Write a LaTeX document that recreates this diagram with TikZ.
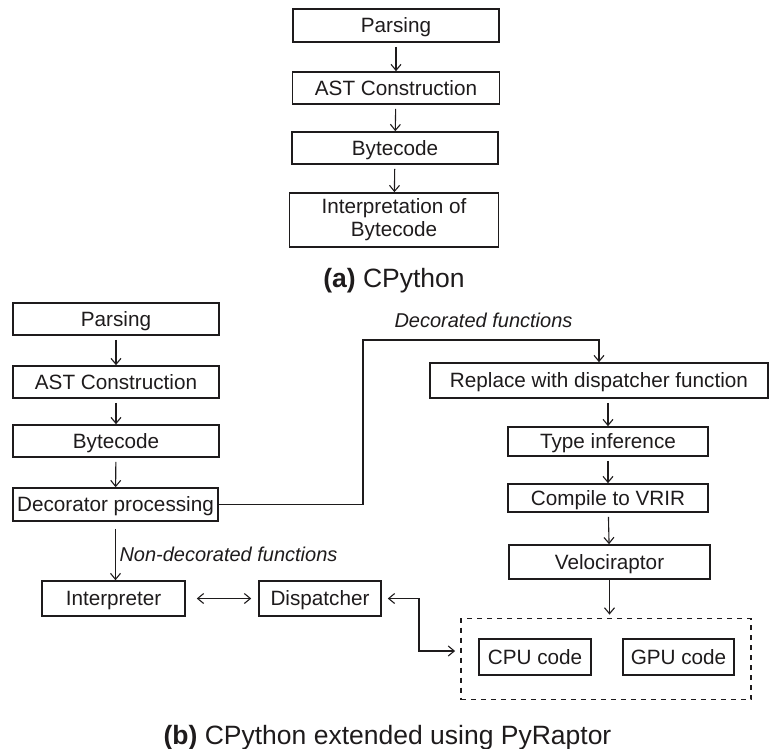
\documentclass[tikz,border=0pt]{standalone}
\usepackage{fontspec}
\setmainfont{Liberation Sans}
\usetikzlibrary{arrows.meta}
\definecolor{ink}{RGB}{30,27,28}
\newcommand{\boxfont}{\fontsize{20.7}{23}\selectfont}
\newcommand{\capfont}{\fontsize{26.5}{30}\selectfont}
\newcommand{\labfont}{\fontsize{20}{23}\selectfont\itshape}

\begin{document}
\begin{tikzpicture}[x=1pt, y=-1pt, >={Straight Barb[length=6pt,width=10pt]},
  frame/.style={draw=ink, line width=1.6pt, inner sep=0pt, text=ink, font=\boxfont},
  box/.style={frame, text height=14.8pt, text depth=0pt},
  link/.style={draw=ink, line width=1.1pt},
  captext/.style={anchor=base, text=ink, font=\capfont},
  lab/.style={anchor=base west, text=ink, font=\labfont}]
  \useasboundingbox (0,0) rectangle (769,749);
  \node (pa) at (396,25.5) [box, minimum width=206, minimum height=33] {Parsing};
  \node (aa) at (396,88) [box, minimum width=207, minimum height=32] {AST Construction};
  \node (ba) at (395,148) [box, minimum width=206, minimum height=32] {Bytecode};
  \node (ia) at (394,220) [frame, align=center, minimum width=209, minimum height=54] {Interpretation of\\Bytecode};
  \node (capa) at (394,287) [captext] {\textbf{(a)} CPython};
  \draw [link, ->, shorten <=4pt] (pa) -- (aa);
  \draw [link, ->, shorten <=4pt] (aa) -- (ba);
  \draw [link, ->, shorten <=4pt] (ba) -- (ia);

  \node (pb) at (116,319) [box, minimum width=206, minimum height=32] {Parsing};
  \node (ab) at (116,382) [box, minimum width=206, minimum height=32] {AST Construction};
  \node (bb) at (116,441) [box, minimum width=206, minimum height=32] {Bytecode};
  \node (db) at (115.5,504.5) [box, minimum width=205, minimum height=33] {Decorator processing};
  \node (ib) at (113.5,598.5) [box, minimum width=143, minimum height=35] {Interpreter};
  \node (dp) at (320,598.5) [box, minimum width=122, minimum height=35] {Dispatcher};
  \node (rb) at (599,380.5) [box, minimum width=338, minimum height=35] {Replace with dispatcher function};
  \node (tb) at (608,441.5) [box, minimum width=200, minimum height=29] {Type inference};
  \node (cb) at (608,498) [box, minimum width=200, minimum height=28] {Compile to VRIR};
  \node (vb) at (609.5,562) [box, minimum width=201, minimum height=34] {Velociraptor};
  \node (grp) at (606,659) [draw=ink, line width=1.8pt, dash pattern=on 5pt off 5pt, minimum width=290, minimum height=81] {};
  \node (cpu) at (535,657) [box, minimum width=112, minimum height=36] {CPU code};
  \node (gpu) at (678.5,657) [box, minimum width=111, minimum height=36] {GPU code};
  \node (dlab) at (391,327) [lab] {Decorated functions};
  \node (nlab) at (116,561) [lab] {Non-decorated functions};
  \node (capb) at (387.5,744) [captext] {\textbf{(b)} CPython extended using PyRaptor};
  \coordinate (k1) at (363,340);
  \coordinate (k2) at (419,651);

  \draw [link, ->, shorten <=4pt] (pb) -- (ab);
  \draw [link, ->, shorten <=4pt] (ab) -- (bb);
  \draw [link, ->, shorten <=4pt] (bb) -- (db);
  \draw [link, ->] (db.east) -| (k1) -| (rb.north);
  \draw [link, ->, shorten <=7pt] (db.south) -- (db.south |- ib.north);
  \draw [link, <->, shorten <=11pt, shorten >=7pt] (ib) -- (dp);
  \draw [link, <->] ([xshift=6pt]dp.east) -| (k2) -- ([xshift=-5pt]grp.west |- k2);
  \draw [link, ->, shorten <=4pt] (rb.south -| tb.north) -- (tb.north);
  \draw [link, ->, shorten <=4pt] (tb) -- (cb);
  \draw [link, ->, shorten <=4pt] (cb) -- (vb);
  \draw [link, ->, shorten >=3pt] (vb) -- (vb |- grp.north);
\end{tikzpicture}
\end{document}
